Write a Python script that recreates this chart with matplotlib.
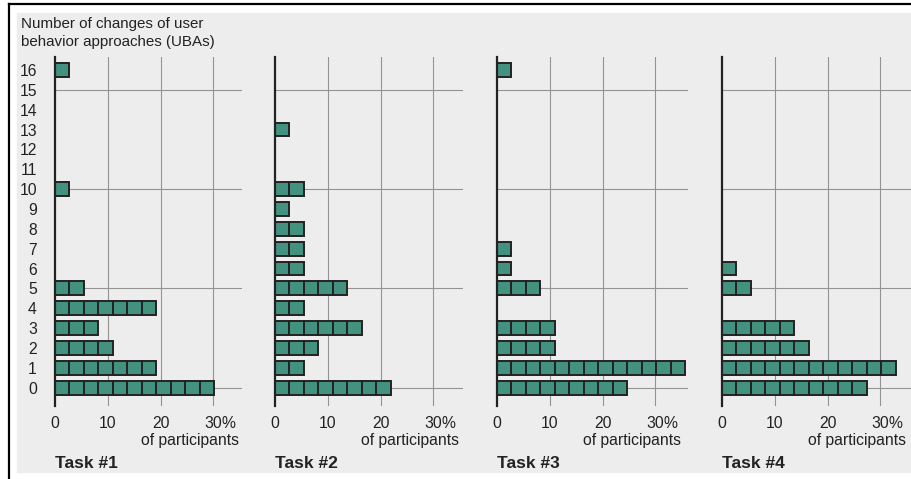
import matplotlib.pyplot as plt
from matplotlib.patches import Rectangle
from matplotlib.lines import Line2D

plt.rcParams["font.family"] = ["Liberation Sans", "DejaVu Sans"]

# number of UBA changes -> number of participants (one square each)
task1_changes = [0, 1, 2, 3, 4, 5, 10, 16]
task1_counts = [11, 7, 4, 3, 7, 2, 1, 1]
task2_changes = [0, 1, 2, 3, 4, 5, 6, 7, 8, 9, 10, 13]
task2_counts = [8, 2, 3, 6, 2, 5, 2, 2, 2, 1, 2, 1]
task3_changes = [0, 1, 2, 3, 5, 6, 7, 16]
task3_counts = [9, 13, 4, 4, 3, 1, 1, 1]
task4_changes = [0, 1, 2, 3, 5, 6]
task4_counts = [10, 12, 6, 5, 2, 1]
task_names = ["Task #1", "Task #2", "Task #3", "Task #4"]
pct_per_participant = 2.74

y_ticks = list(range(17))
grid_y = [0, 5, 10, 15]
x_ticks = [0, 10, 20, 30]
x_tick_labels = ["0", "10", "20", "30"]

tasks = [
    (task1_changes, task1_counts),
    (task2_changes, task2_counts),
    (task3_changes, task3_counts),
    (task4_changes, task4_counts),
]

W, H = 912, 479
fig = plt.figure(figsize=(W / 100, H / 100), dpi=100)
fig.patch.set_facecolor("white")

# grey panel + black frame lines
fig.patches.append(Rectangle((17 / W, 1 - 472 / H), 1, (472 - 13) / H,
                             transform=fig.transFigure, color="#ededed", zorder=-10))
fig.lines.append(Line2D([9 / W, 9 / W], [0, 1 - 4 / H], transform=fig.transFigure,
                        color="black", linewidth=1.6))
fig.lines.append(Line2D([9 / W, 1], [1 - 4 / H, 1 - 4 / H], transform=fig.transFigure,
                        color="black", linewidth=1.6))

teal = "#43917f"
edge = "#222222"
gridc = "#939393"
fs = 11.3
lefts = [55, 275, 497, 722]
xmax = [35.4, 35.7, 36.2, 36.2]
px_per_pct = 5.28
ax_top, ax_bot = 57, 406

for k, (changes, counts) in enumerate(tasks):
    ax_w = xmax[k] * px_per_pct
    ax = fig.add_axes([lefts[k] / W, 1 - ax_bot / H, ax_w / W, (ax_bot - ax_top) / H])
    ax.set_facecolor("none")
    ax.set_xlim(0, xmax[k])
    ax.set_ylim(-0.92, 16.65)

    # one square per participant
    ys, ls = [], []
    for c, n in zip(changes, counts):
        for j in range(n):
            ys.append(c)
            ls.append(j * pct_per_participant)
    ax.barh(ys, pct_per_participant, left=ls, height=0.7, color=teal,
            edgecolor=edge, linewidth=1.4, zorder=3, clip_on=False)

    for x in x_ticks[1:]:
        ax.axvline(x, color=gridc, linewidth=0.8, zorder=1)
    for y in grid_y:
        ax.axhline(y, color=gridc, linewidth=0.8, zorder=1)

    for s in ["top", "right", "bottom"]:
        ax.spines[s].set_visible(False)
    ax.spines["left"].set_color(edge)
    ax.spines["left"].set_linewidth(1.6)
    ax.spines["left"].set_zorder(4)

    ax.set_xticks(x_ticks)
    ax.set_xticklabels(x_tick_labels)
    ax.tick_params(axis="x", length=0, pad=7, labelsize=fs, labelcolor="#222222")
    ax.set_yticks(y_ticks)
    if k == 0:
        ax.set_yticks(grid_y, minor=True)
        ax.tick_params(axis="y", which="major", length=0, pad=13, labelsize=fs,
                       labelcolor="#222222")
        ax.tick_params(axis="y", which="minor", length=7, width=0.8, color=gridc)
    else:
        ax.tick_params(axis="y", length=0, labelleft=False)

    ax.annotate("%", xy=(30, 0), xycoords=("data", "axes fraction"),
                xytext=(5.5, -7), textcoords="offset points",
                ha="left", va="top", fontsize=fs, color="#222222")
    fig.text((lefts[k] + 184) / W, 1 - 441 / H, "of participants", ha="right",
             va="center", fontsize=fs, color="#222222")
    fig.text(lefts[k] / W, 1 - 463 / H, task_names[k], ha="left", va="center",
             fontsize=12.5, fontweight="bold", color="#222222")

fig.text(21 / W, 1 - 33 / H, "Number of changes of user\nbehavior approaches (UBAs)",
         ha="left", va="center", fontsize=10.9, color="#222222", linespacing=1.3)

fig.savefig("out.png", dpi=100)
